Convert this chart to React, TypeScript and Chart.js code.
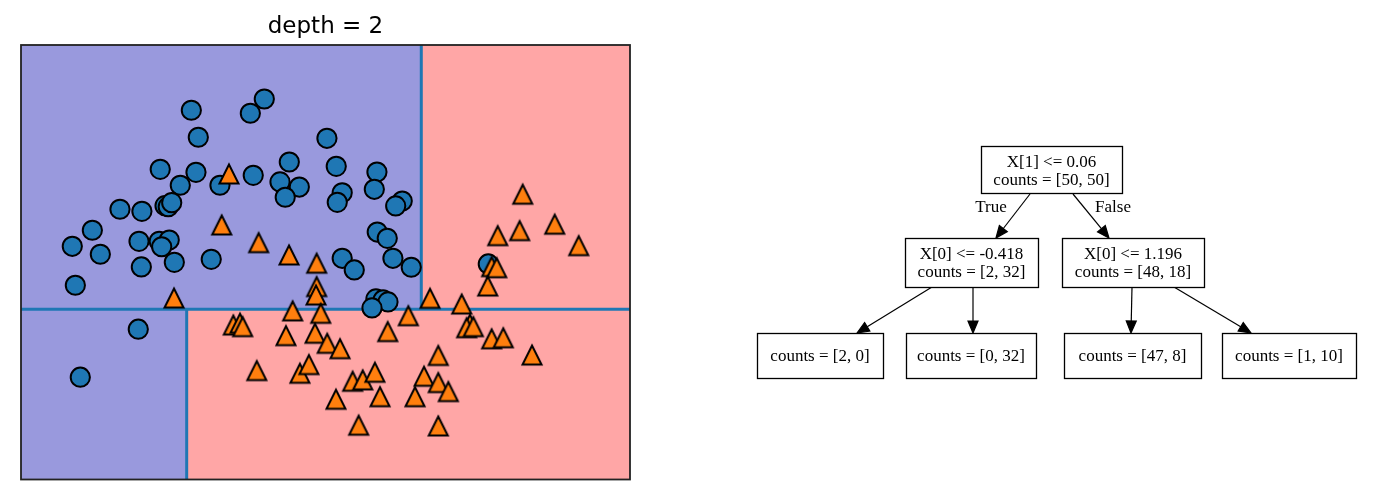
import React, { useEffect, useRef } from "react";
import { Chart, registerables } from "chart.js";

Chart.register(...registerables);

// ---- data (feature space of the two-moons sample) ----
const blueX = [-0.386, -0.338, -0.6, -0.354, -0.462, -0.189, -0.877, -0.726, -0.567, -0.545,
  -0.521, -1.067, -1.205, -1.012, -0.746, -0.607, -0.538, -0.59, -0.73, -0.503,
  -0.249, -1.184, 0.116, 0.02, 0.547, 0.288, 0.611, 0.04, 0.224, 0.357,
  0.26, 0.891, 0.873, 0.652, 0.618, 1.065, 1.02, 0.893, 0.962, 0.652,
  0.735, 1.001, 1.127, 0.884, 0.933, 0.967, 0.857, 1.657, -0.751, -1.15];
const blueY = [1.387, 1.207, 0.993, 0.973, 0.887, 0.887, 0.727, 0.713, 0.751, 0.744,
  0.771, 0.587, 0.48, 0.427, 0.513, 0.513, 0.522, 0.477, 0.342, 0.373,
  0.393, 0.22, 1.462, 1.367, 1.2, 1.042, 1.013, 0.953, 0.909, 0.875,
  0.807, 0.975, 0.86, 0.837, 0.773, 0.782, 0.749, 0.575, 0.533, 0.4,
  0.322, 0.4, 0.34, 0.129, 0.122, 0.109, 0.069, 0.362, -0.073, -0.393];
const orangeX = [-0.127, -0.177, 0.077, 0.286, 0.476, 0.476, 0.472, -0.505,
  1.894, 2.114, 1.873, 1.722, 2.279, 1.68, 1.715, 1.653, 1.256, 1.474,
  0.311, 0.504, 1.107, -0.097, -0.051, -0.033, 0.265, 0.465, 0.549, 0.637,
  0.965, 0.064, 0.361, 0.423, 0.724, 0.793, 0.877, 0.609, 0.912, 1.153,
  1.215, 0.765, 1.531, 1.508, 1.554, 1.68, 1.76, 1.313, 1.958, 1.313,
  1.382, 1.313];
const orangeY = [0.962, 0.622, 0.504, 0.422, 0.367, 0.211, 0.155, 0.135,
  0.827, 0.627, 0.584, 0.551, 0.484, 0.344, 0.337, 0.215, 0.133, 0.095,
  0.049, 0.033, 0.017, -0.045, -0.033, -0.056, -0.116, -0.1, -0.167, -0.203,
  -0.089, -0.349, -0.367, -0.309, -0.42, -0.411, -0.36, -0.54, -0.523, -0.523,
  -0.387, -0.713, -0.04, -0.063, -0.056, -0.137, -0.13, -0.248, -0.245, -0.429,
  -0.489, -0.718];

// axis extents and tree split thresholds
const xLimits = [-1.558, 2.632];
const yLimits = [-1.075, 1.822];
const splitY = 0.06;
const splitXLow = -0.418;
const splitXHigh = 1.196;

const titleText = "depth = 2";

// decision tree text
const nodeLines = [
  ["X[1] <= 0.06", "counts = [50, 50]"],
  ["X[0] <= -0.418", "counts = [2, 32]"],
  ["X[0] <= 1.196", "counts = [48, 18]"],
  ["counts = [2, 0]"],
  ["counts = [0, 32]"],
  ["counts = [47, 8]"],
  ["counts = [1, 10]"],
];
const edgeLabels = ["True", "False", "", "", "", ""];

// ---- layout / styles ----
const W = 1375;
const H = 501;
const PLOT = { left: 21, top: 45, right: 630, bottom: 479.5 };
const BLUE_REGION = "rgb(153,153,221)";
const RED_REGION = "rgb(255,166,166)";
const LINE_BLUE = "#1f77b4";
const POINT_BLUE = "#1f77b4";
const POINT_ORANGE = "#ff7f0e";

const boxes = [
  { x0: 981, x1: 1122, y0: 146, y1: 193, base: [166.5, 185] },
  { x0: 905, x1: 1038, y0: 238, y1: 287, base: [259, 277] },
  { x0: 1062, x1: 1204, y0: 238, y1: 287, base: [259, 277] },
  { x0: 757, x1: 883, y0: 333, y1: 378, base: [361] },
  { x0: 906, x1: 1036, y0: 333, y1: 378, base: [361] },
  { x0: 1064, x1: 1201, y0: 333, y1: 378, base: [361] },
  { x0: 1222, x1: 1356, y0: 333, y1: 378, base: [361] },
];
const edges = [
  { a: [1030, 194], b: [996, 238], lx: 991, ly: 212 },
  { a: [1073, 194], b: [1109, 238], lx: 1113, ly: 212 },
  { a: [932, 287], b: [857, 333] },
  { a: [973, 287], b: [973, 333] },
  { a: [1132, 287], b: [1131, 333] },
  { a: [1174, 287], b: [1251, 333] },
];

function makeTriangle(): HTMLCanvasElement {
  const c = document.createElement("canvas");
  c.width = 26;
  c.height = 26;
  const g = c.getContext("2d")!;
  const cx = 13, cy = 13, s = 9.5;
  g.beginPath();
  g.moveTo(cx, cy - s);
  g.lineTo(cx - s, cy + s);
  g.lineTo(cx + s, cy + s);
  g.closePath();
  g.fillStyle = POINT_ORANGE;
  g.fill();
  g.lineWidth = 2;
  g.lineJoin = "miter";
  g.strokeStyle = "#000";
  g.stroke();
  return c;
}

const decorPlugin = {
  id: "decor",
  beforeDatasetsDraw(chart: any) {
    const { ctx, chartArea: a, scales } = chart;
    const xs = scales.x.getPixelForValue(splitXLow);
    const xr = scales.x.getPixelForValue(splitXHigh);
    const ys = scales.y.getPixelForValue(splitY);
    ctx.save();
    ctx.fillStyle = BLUE_REGION;
    ctx.fillRect(a.left, a.top, xr - a.left, ys - a.top);
    ctx.fillRect(a.left, ys, xs - a.left, a.bottom - ys);
    ctx.fillStyle = RED_REGION;
    ctx.fillRect(xr, a.top, a.right - xr, ys - a.top);
    ctx.fillRect(xs, ys, a.right - xs, a.bottom - ys);
    ctx.restore();
  },
  afterDatasetsDraw(chart: any) {
    const { ctx, chartArea: a } = chart;
    ctx.save();
    ctx.strokeStyle = "#222";
    ctx.lineWidth = 1.8;
    ctx.strokeRect(a.left, a.top, a.right - a.left, a.bottom - a.top);
    ctx.restore();
  },
  afterDraw(chart: any) {
    const { ctx, chartArea: a } = chart;
    ctx.save();
    // title
    ctx.fillStyle = "#000";
    ctx.font = '23px "DejaVu Sans"';
    ctx.textAlign = "center";
    ctx.textBaseline = "alphabetic";
    ctx.fillText(titleText, (a.left + a.right) / 2, 33);

    // tree edges
    ctx.strokeStyle = "#000";
    ctx.fillStyle = "#000";
    ctx.lineWidth = 1.2;
    ctx.font = '17px "Liberation Serif"';
    edges.forEach((e, i) => {
      const [x1, y1] = e.a;
      const [x2, y2] = e.b;
      const ang = Math.atan2(y2 - y1, x2 - x1);
      const hl = 12, hw = 5;
      const bx = x2 - Math.cos(ang) * hl;
      const by = y2 - Math.sin(ang) * hl;
      ctx.beginPath();
      ctx.moveTo(x1, y1);
      ctx.lineTo(bx, by);
      ctx.stroke();
      ctx.beginPath();
      ctx.moveTo(x2, y2);
      ctx.lineTo(bx - Math.sin(ang) * hw, by + Math.cos(ang) * hw);
      ctx.lineTo(bx + Math.sin(ang) * hw, by - Math.cos(ang) * hw);
      ctx.closePath();
      ctx.fill();
      ctx.stroke();
      if (edgeLabels[i] && e.lx !== undefined) {
        ctx.textAlign = "center";
        ctx.fillText(edgeLabels[i], e.lx, e.ly);
      }
    });

    // tree boxes
    boxes.forEach((b, i) => {
      ctx.fillStyle = "#fff";
      ctx.fillRect(b.x0, b.y0, b.x1 - b.x0, b.y1 - b.y0);
      ctx.strokeStyle = "#000";
      ctx.lineWidth = 1.3;
      ctx.strokeRect(b.x0 + 0.5, b.y0 + 0.5, b.x1 - b.x0, b.y1 - b.y0);
      ctx.fillStyle = "#000";
      ctx.textAlign = "center";
      nodeLines[i].forEach((t, j) => {
        ctx.fillText(t, (b.x0 + b.x1) / 2, b.base[j]);
      });
    });
    ctx.restore();
  },
};

export default function App() {
  const ref = useRef<HTMLCanvasElement | null>(null);
  useEffect(() => {
    document.body.style.margin = "0";
    const canvas = ref.current;
    if (!canvas) return;
    const tri = makeTriangle();
    const blue = blueX.map((x, i) => ({ x, y: blueY[i] }));
    const orange = orangeX.map((x, i) => ({ x, y: orangeY[i] }));
    const lineStyle = {
      showLine: true,
      borderColor: LINE_BLUE,
      borderWidth: 3,
      pointRadius: 0,
      pointHoverRadius: 0,
      order: 2,
    };
    const chart = new Chart(canvas, {
      type: "scatter",
      data: {
        datasets: [
          { ...lineStyle, data: [{ x: xLimits[0], y: splitY }, { x: xLimits[1], y: splitY }] },
          { ...lineStyle, data: [{ x: splitXLow, y: yLimits[0] }, { x: splitXLow, y: splitY }] },
          { ...lineStyle, data: [{ x: splitXHigh, y: splitY }, { x: splitXHigh, y: yLimits[1] }] },
          {
            data: blue,
            pointStyle: "circle",
            pointRadius: 9.6,
            pointHoverRadius: 9.6,
            backgroundColor: POINT_BLUE,
            borderColor: "#000",
            borderWidth: 2,
            order: 1,
          },
          {
            data: orange,
            pointStyle: tri,
            pointRadius: 10,
            pointHoverRadius: 10,
            order: 0,
          },
        ],
      },
      options: {
        responsive: false,
        animation: false,
        devicePixelRatio: 1,
        events: [],
        layout: {
          padding: {
            left: PLOT.left,
            top: PLOT.top,
            right: W - PLOT.right,
            bottom: H - PLOT.bottom,
          },
        },
        plugins: { legend: { display: false }, tooltip: { enabled: false }, title: { display: false } },
        scales: {
          x: { type: "linear", min: xLimits[0], max: xLimits[1], display: false },
          y: { type: "linear", min: yLimits[0], max: yLimits[1], display: false },
        },
      },
      plugins: [decorPlugin],
    });
    return () => chart.destroy();
  }, []);
  return (
    <div style={{ width: W, height: H, background: "#fff" }}>
      <canvas ref={ref} width={W} height={H} style={{ display: "block" }} />
    </div>
  );
}
